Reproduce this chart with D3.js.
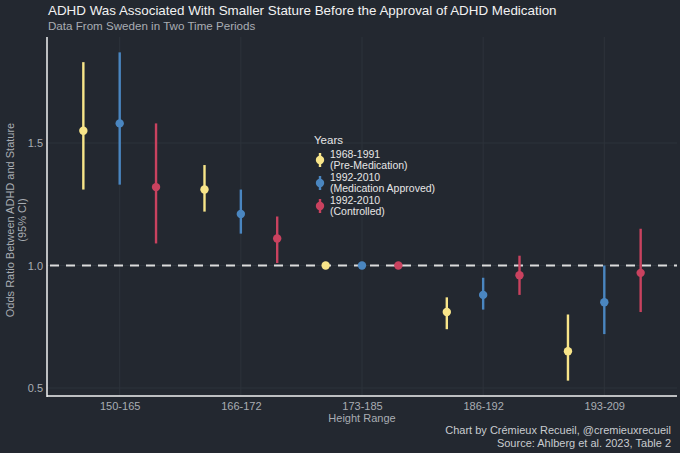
<!DOCTYPE html>
<html><head><meta charset="utf-8">
<script src="https://cdn.jsdelivr.net/npm/d3@7"></script>
<style>
html,body{margin:0;padding:0;background:#232830;}
svg{display:block;font-family:"Liberation Sans",Arial,Helvetica,sans-serif;}
</style></head>
<body>
<svg id="chart" width="680" height="453"></svg>
<script>
const categories = ["150-165","166-172","173-185","186-192","193-209"];
const seriesNames = ["1968-1991 (Pre-Medication)","1992-2010 (Medication Approved)","1992-2010 (Controlled)"];
const legendLines = [["1968-1991","(Pre-Medication)"],["1992-2010","(Medication Approved)"],["1992-2010","(Controlled)"]];
const colors = ["#f8e589","#4a86c0","#c9425f"];
// estimates, lower, upper per series, per category
const preEst   = [1.55, 1.31, 1.00, 0.81, 0.65];
const preLo    = [1.31, 1.22, 1.00, 0.74, 0.53];
const preHi    = [1.83, 1.41, 1.00, 0.87, 0.80];
const medEst   = [1.58, 1.21, 1.00, 0.88, 0.85];
const medLo    = [1.33, 1.13, 1.00, 0.82, 0.72];
const medHi    = [1.87, 1.31, 1.00, 0.95, 1.00];
const ctlEst   = [1.32, 1.11, 1.00, 0.96, 0.97];
const ctlLo    = [1.09, 1.01, 1.00, 0.88, 0.81];
const ctlHi    = [1.58, 1.20, 1.00, 1.04, 1.15];
const yTicks = [0.5, 1.0, 1.5];

(function(){
const series = [
  {est: preEst, lo: preLo, hi: preHi},
  {est: medEst, lo: medLo, hi: medHi},
  {est: ctlEst, lo: ctlLo, hi: ctlHi}
];
const data = [];
series.forEach((s, si) => categories.forEach((c, ci) => {
  data.push({cat: c, s: si, est: s.est[ci], lo: s.lo[ci], hi: s.hi[ci]});
}));

const svg = d3.select("#chart");
const pLeft = 47, pRight = 677, pTop = 37, pBottom = 396;

const x = d3.scalePoint().domain(categories).range([pLeft, pRight]).padding(0.6);
const y = d3.scaleLinear().domain([1 - (pBottom - 265.5) / 245, 1 + (265.5 - pTop) / 245]).range([pBottom, pTop]);
const dodge = d3.scalePoint().domain([0,1,2]).range([-0.3, 0.3]);
const step = x.step();

// gridlines
const grid = svg.append("g");
grid.selectAll("line.v").data(categories).enter().append("line")
  .attr("x1", d => x(d)).attr("x2", d => x(d)).attr("y1", pTop).attr("y2", pBottom)
  .attr("stroke", "#2d333b").attr("stroke-width", 1);
grid.selectAll("line.h").data(yTicks).enter().append("line")
  .attr("x1", pLeft).attr("x2", pRight).attr("y1", d => y(d)).attr("y2", d => y(d))
  .attr("stroke", "#2d333b").attr("stroke-width", 1);

const yAxis = d3.axisLeft(y).tickValues(yTicks).tickFormat(d3.format(".1f")).tickSize(0).tickPadding(4);
const ya = svg.append("g").attr("transform", `translate(${pLeft},0)`).call(yAxis);
ya.select(".domain").remove();
ya.selectAll("text").attr("fill", "#a9adb3").attr("font-size", 11);

const xAxis = d3.axisBottom(x).tickSize(0).tickPadding(6);
const xa = svg.append("g").attr("transform", `translate(0,${pBottom})`).call(xAxis);
xa.select(".domain").remove();
xa.selectAll("text").attr("fill", "#a9adb3").attr("font-size", 11);

// reference line
svg.append("line").attr("x1", pLeft + 3).attr("x2", pRight).attr("y1", y(1)).attr("y2", y(1))
  .attr("stroke", "#dcdcdc").attr("stroke-width", 2).attr("stroke-dasharray", "9,7");

// axis lines
svg.append("line").attr("x1", pLeft).attr("x2", pLeft).attr("y1", pTop).attr("y2", pBottom + 1)
  .attr("stroke", "#f2f2f2").attr("stroke-width", 1.5);
svg.append("line").attr("x1", pLeft).attr("x2", pRight).attr("y1", pBottom).attr("y2", pBottom)
  .attr("stroke", "#f2f2f2").attr("stroke-width", 1.5);

// error bars + points
const marks = svg.append("g");
const cx = d => x(d.cat) + dodge(d.s) * step;
marks.selectAll("line.err").data(data.filter(d => d.hi > d.lo)).enter().append("line")
  .attr("x1", cx).attr("x2", cx).attr("y1", d => y(d.lo)).attr("y2", d => y(d.hi))
  .attr("stroke", d => colors[d.s]).attr("stroke-width", 2.4);
marks.selectAll("circle").data(data).enter().append("circle")
  .attr("cx", cx).attr("cy", d => y(d.est)).attr("r", 4.2)
  .attr("fill", d => colors[d.s]);

// legend
const lg = svg.append("g");
lg.append("text").attr("x", 314).attr("y", 144).text("Years").attr("fill", "#e6e6e6").attr("font-size", 11.5);
const keyY = [160, 183, 206];
legendLines.forEach((lines, i) => {
  lg.append("line").attr("x1", 320).attr("x2", 320).attr("y1", keyY[i] - 7).attr("y2", keyY[i] + 7)
    .attr("stroke", colors[i]).attr("stroke-width", 2.4);
  lg.append("circle").attr("cx", 320).attr("cy", keyY[i]).attr("r", 4.2).attr("fill", colors[i]);
  lines.forEach((t, j) => {
    lg.append("text").attr("x", 330).attr("y", keyY[i] - 2.5 + j * 11.5).text(t)
      .attr("fill", "#e6e6e6").attr("font-size", 10.5);
  });
});

// titles
svg.append("text").attr("x", 48).attr("y", 15).text("ADHD Was Associated With Smaller Stature Before the Approval of ADHD Medication")
  .attr("fill", "#f2f2f2").attr("font-size", 13.4);
svg.append("text").attr("x", 48).attr("y", 30).text("Data From Sweden in Two Time Periods")
  .attr("fill", "#a9adb3").attr("font-size", 11.6);

// axis titles
svg.append("text").attr("x", x(categories[2])).attr("y", 422).attr("text-anchor", "middle")
  .text("Height Range").attr("fill", "#a9adb3").attr("font-size", 11);
const yt = svg.append("text").attr("transform", "translate(14,220) rotate(-90)").attr("text-anchor", "middle")
  .attr("fill", "#a9adb3").attr("font-size", 11);
yt.append("tspan").attr("x", 0).attr("y", 0).text("Odds Ratio Between ADHD and Stature");
yt.append("tspan").attr("x", 0).attr("y", 12).text("(95% CI)");

// caption
svg.append("text").attr("x", 671).attr("y", 434).attr("text-anchor", "end")
  .text("Chart by Crémieux Recueil, @cremieuxrecueil").attr("fill", "#c8cbcf").attr("font-size", 11);
svg.append("text").attr("x", 671).attr("y", 447).attr("text-anchor", "end")
  .text("Source: Ahlberg et al. 2023, Table 2").attr("fill", "#c8cbcf").attr("font-size", 11);
})();
</script>
</body></html>
